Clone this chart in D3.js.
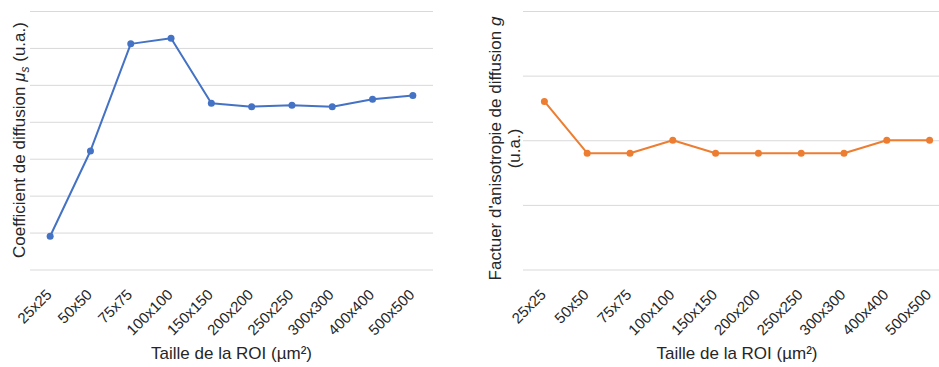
<!DOCTYPE html>
<html><head><meta charset="utf-8">
<script src="https://cdn.jsdelivr.net/npm/d3@7"></script>
<style>body{margin:0;background:#fff}svg{display:block}text{font-family:"Liberation Sans",Arial,sans-serif;fill:#262626}</style>
</head><body>
<svg id="c" width="939" height="367"></svg>
<script>
const categories = ["25x25","50x50","75x75","100x100","150x150","200x200","250x250","300x300","400x400","500x500"];
const musValues = [0.9, 3.21, 6.11, 6.26, 4.50, 4.41, 4.45, 4.41, 4.61, 4.71];
const gValues = [0.26, 0.18, 0.18, 0.20, 0.18, 0.18, 0.18, 0.18, 0.20, 0.20];
const musTicks = [0,1,2,3,4,5,6,7];
const gTicks = [0,0.1,0.2,0.3,0.4];
const xTitle = "Taille de la ROI (µm²)";

const svg = d3.select("#c");

function panel(cfg){
  const g = svg.append("g");
  const x = d3.scaleBand().domain(categories).range([cfg.x0, cfg.x1]);
  const y = d3.scaleLinear().domain(cfg.domain).range([cfg.yb, cfg.yt]);
  // gridlines
  const grid = g.append("g").call(d3.axisLeft(y).tickValues(cfg.ticks).tickSize(-(cfg.x1-cfg.x0)).tickFormat(""))
    .attr("transform", `translate(${cfg.x0},0)`);
  grid.select(".domain").remove();
  grid.selectAll("line").attr("stroke","#d9d9d9").attr("stroke-width",1);
  // x tick labels
  const xa = g.append("g").attr("transform",`translate(0,${cfg.yb})`)
    .call(d3.axisBottom(x).tickSize(0).tickPadding(0));
  xa.select(".domain").remove();
  xa.selectAll("text").attr("font-size",15).attr("fill","#262626")
    .attr("text-anchor","end").attr("dy",null).attr("y",null)
    .attr("transform",`translate(2.5,26) rotate(-45)`);
  // line
  const cx = d => x(d.c)+x.bandwidth()/2;
  const data = categories.map((c,i)=>({c, v: cfg.values[i]}));
  g.append("path").datum(data)
    .attr("fill","none").attr("stroke",cfg.color).attr("stroke-width",2)
    .attr("stroke-linejoin","round")
    .attr("d", d3.line().x(cx).y(d=>y(d.v)));
  g.selectAll("circle.pt").data(data).join("circle")
    .attr("cx",cx).attr("cy",d=>y(d.v)).attr("r",3.5).attr("fill",cfg.color);
  // x title
  g.append("text").attr("x",(cfg.x0+cfg.x1)/2).attr("y",359)
    .attr("text-anchor","middle").attr("font-size",17).text(xTitle);
  return {x,y,g};
}

const p1 = panel({x0:30,x1:433,yt:11,yb:269.5,domain:[0,7],ticks:musTicks,values:musValues,color:"#4472C4"});
const p2 = panel({x0:523,x1:951,yt:11,yb:269.5,domain:[0,0.4],ticks:gTicks,values:gValues,color:"#ED7D31"});

// y titles
const t1 = svg.append("text").attr("transform","translate(25,140) rotate(-90)")
  .attr("text-anchor","middle").attr("font-size",17);
t1.append("tspan").text("Coefficient de diffusion ");
t1.append("tspan").attr("font-style","italic").text("μ");
t1.append("tspan").attr("font-style","italic").attr("font-size",12).attr("dy",4).text("s");
t1.append("tspan").attr("dy",-4).text(" (u.a.)");

const t2 = svg.append("text").attr("transform","translate(501,148.5) rotate(-90)")
  .attr("text-anchor","middle").attr("font-size",17);
t2.append("tspan").text("Factuer d'anisotropie de diffusion ");
t2.append("tspan").attr("font-style","italic").text("g");
svg.append("text").attr("transform","translate(520,148.5) rotate(-90)")
  .attr("text-anchor","middle").attr("font-size",17).text("(u.a.)");
</script>
</body></html>
